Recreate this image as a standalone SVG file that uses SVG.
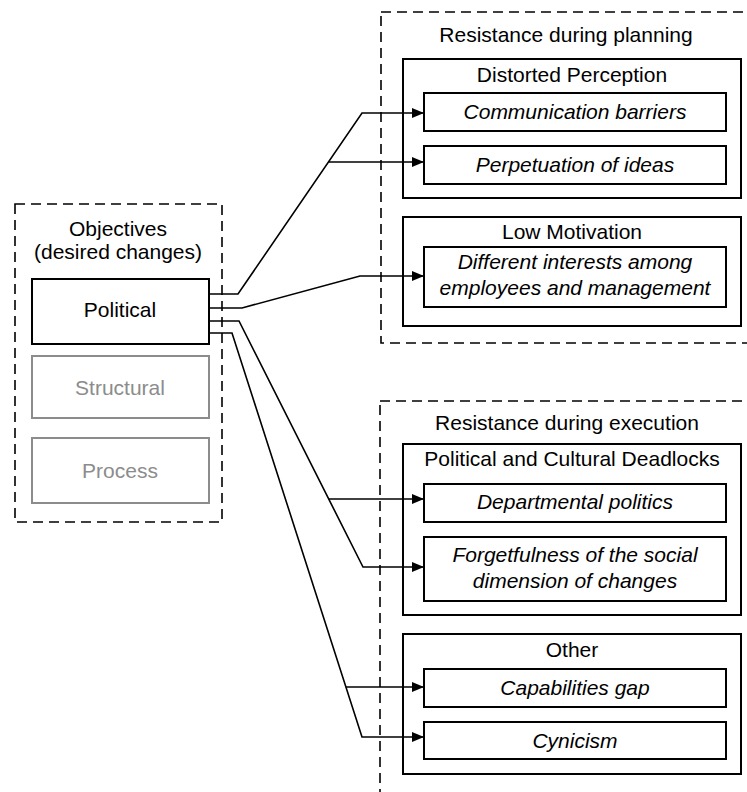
<svg xmlns="http://www.w3.org/2000/svg" width="747" height="792" viewBox="0 0 747 792">
  <style>
    text { font-family: "Liberation Sans", Arial, sans-serif; font-size: 21px; fill: #000; text-anchor: middle; }
    text.it { font-style: italic; }
    text.dim { fill: #8c8c8c; }
    .group { fill: none; stroke: #000; stroke-width: 1.6; stroke-dasharray: 10 6; }
    .box { fill: #fff; stroke: #000; stroke-width: 2; }
    .box.dim { stroke: #8c8c8c; }
    .edge { fill: none; stroke: #000; stroke-width: 1.6; }
  </style>
  <defs>
    <marker id="arrow" markerUnits="userSpaceOnUse" markerWidth="12" markerHeight="12" viewBox="0 0 12 12" refX="12" refY="6" orient="auto">
      <path d="M0,1 L12,6 L0,11 Z" fill="#000"/>
    </marker>
  </defs>

  <rect width="747" height="792" fill="#fff"/>

  <!-- Objectives -->
  <g id="objectives">
    <rect class="group" x="15" y="204" width="207" height="318"/>
    <text x="118" y="236">Objectives</text>
    <text x="118" y="259">(desired changes)</text>
  </g>
  <g id="political">
    <rect class="box" x="32" y="279" width="177" height="65"/>
    <text x="120" y="317">Political</text>
  </g>
  <g id="structural">
    <rect class="box dim" x="32" y="356" width="177" height="62"/>
    <text class="dim" x="120" y="395">Structural</text>
  </g>
  <g id="process">
    <rect class="box dim" x="32" y="438" width="177" height="65"/>
    <text class="dim" x="120" y="478">Process</text>
  </g>

  <!-- Resistance during planning -->
  <g id="planning">
    <rect class="group" x="381" y="12" width="372" height="331"/>
    <text x="566" y="42">Resistance during planning</text>
  </g>
  <g id="distorted-perception">
    <rect class="box" x="403" y="59" width="338" height="139"/>
    <text x="572" y="82">Distorted Perception</text>
  </g>
  <g id="communication-barriers">
    <rect class="box" x="424" y="93" width="302" height="38"/>
    <text class="it" x="575" y="119">Communication barriers</text>
  </g>
  <g id="perpetuation-of-ideas">
    <rect class="box" x="424" y="146" width="302" height="38"/>
    <text class="it" x="575" y="172">Perpetuation of ideas</text>
  </g>
  <g id="low-motivation">
    <rect class="box" x="403" y="217" width="338" height="109"/>
    <text x="572" y="239">Low Motivation</text>
  </g>
  <g id="different-interests">
    <rect class="box" x="424" y="247" width="302" height="60"/>
    <text class="it" x="575" y="269">Different interests among</text>
    <text class="it" x="575" y="295">employees and management</text>
  </g>

  <!-- Resistance during execution -->
  <g id="execution">
    <rect class="group" x="380" y="401" width="373" height="410"/>
    <text x="567" y="430">Resistance during execution</text>
  </g>
  <g id="political-cultural-deadlocks">
    <rect class="box" x="403" y="444" width="338" height="171"/>
    <text x="572" y="466">Political and Cultural Deadlocks</text>
  </g>
  <g id="departmental-politics">
    <rect class="box" x="424" y="484" width="302" height="38"/>
    <text class="it" x="575" y="509">Departmental politics</text>
  </g>
  <g id="forgetfulness">
    <rect class="box" x="424" y="537" width="302" height="64"/>
    <text class="it" x="575" y="562">Forgetfulness of the social</text>
    <text class="it" x="575" y="588">dimension of changes</text>
  </g>
  <g id="other">
    <rect class="box" x="403" y="634" width="338" height="140"/>
    <text x="572" y="657">Other</text>
  </g>
  <g id="capabilities-gap">
    <rect class="box" x="424" y="669" width="302" height="38"/>
    <text class="it" x="575" y="695">Capabilities gap</text>
  </g>
  <g id="cynicism">
    <rect class="box" x="424" y="722" width="302" height="37"/>
    <text class="it" x="575" y="748">Cynicism</text>
  </g>

  <!-- Connectors -->
  <g id="connectors">
    <path class="edge" marker-end="url(#arrow)" d="M209,294 H238 L362,113 H424"/>
    <path class="edge" marker-end="url(#arrow)" d="M328.4,162 H424"/>
    <path class="edge" marker-end="url(#arrow)" d="M209,308 H242 L360,276 H424"/>
    <path class="edge" marker-end="url(#arrow)" d="M209,321 H239 L363,567 H424"/>
    <path class="edge" marker-end="url(#arrow)" d="M328.7,499 H424"/>
    <path class="edge" marker-end="url(#arrow)" d="M209,333 H232 L362,737 H424"/>
    <path class="edge" marker-end="url(#arrow)" d="M345.9,687 H424"/>
  </g>
</svg>
